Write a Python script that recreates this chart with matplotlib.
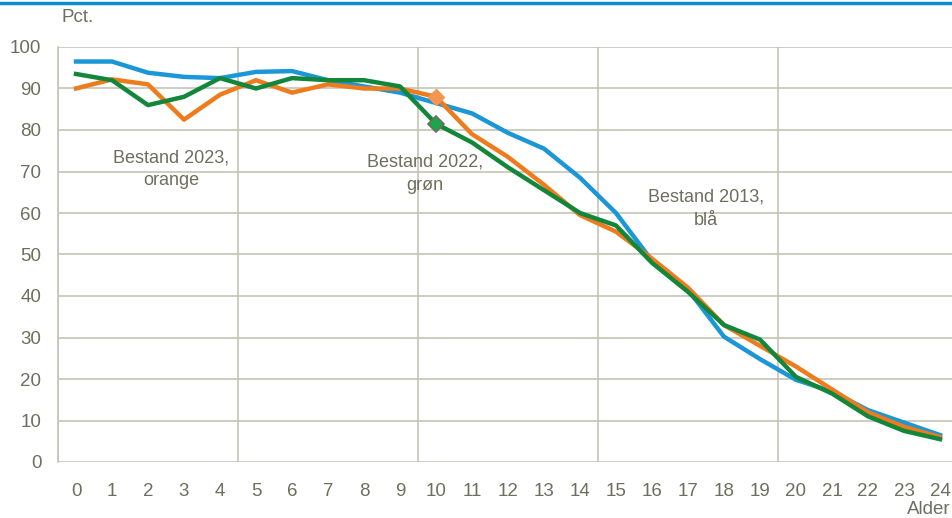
import matplotlib.pyplot as plt
from matplotlib.lines import Line2D

# Alder 0-24, andel i pct.
alder = list(range(25))
bestand_2013 = [96.5, 96.5, 93.8, 92.8, 92.5, 94.0, 94.2, 92.0, 90.5, 89.0,
                86.5, 84.0, 79.3, 75.5, 68.5, 60.0, 48.5, 41.5, 30.2, 24.8,
                19.8, 17.0, 12.5, 9.5, 6.5]
bestand_2023 = [90.0, 92.2, 91.0, 82.5, 88.5, 92.0, 89.0, 91.0, 90.0, 90.0,
                88.0, 79.0, 73.5, 66.8, 59.5, 55.5, 49.0, 42.0, 33.0, 28.0,
                23.0, 17.5, 12.0, 8.5, 6.0]
bestand_2022 = [93.5, 92.0, 86.0, 88.0, 92.5, 90.0, 92.5, 92.0, 92.0, 90.5,
                81.5, 77.0, 71.0, 65.5, 60.0, 57.0, 48.0, 41.0, 33.0, 29.5,
                20.5, 16.5, 11.0, 7.5, 5.5]
y_ticks = list(range(0, 101, 10))

tekst = '#6e6e5e'
grid = '#c4c3b5'
plt.rcParams['font.family'] = ['Liberation Sans Narrow', 'Liberation Sans', 'DejaVu Sans']

fig = plt.figure(figsize=(9.53, 5.18), dpi=100)
ax = fig.add_axes([58 / 953, 56 / 518, 900 / 953, 415 / 518])

ax.plot(alder, bestand_2013, color='#1b96d6', lw=3.2, zorder=3)
ax.plot(alder, bestand_2023, color='#ee7b1c', lw=3.2, zorder=4)
ax.plot(alder, bestand_2022, color='#12873b', lw=3.2, zorder=5)
ax.plot(alder[10], bestand_2023[10], marker='D', ms=8, color='#f39650', zorder=6)
ax.plot(alder[10], bestand_2022[10], marker='D', ms=8, color='#1aa64a',
        mec='#6e6e5e', mew=1.2, zorder=6)

ax.set_xlim(-0.5, 24.5)
ax.set_ylim(0, 100)
ax.set_yticks(y_ticks)
ax.set_xticks(alder)
ax.set_xticks([x - 0.5 for x in range(0, 26, 5)], minor=True)
ax.grid(axis='y', color=grid, lw=1.2)
ax.grid(axis='x', which='minor', color=grid, lw=1.2)
ax.grid(axis='x', which='major', visible=False)
ax.tick_params(which='both', length=0, labelsize=13.5, labelcolor=tekst)
ax.tick_params(axis='x', pad=15)
ax.tick_params(axis='y', pad=12)
for s in ['top', 'right', 'bottom']:
    ax.spines[s].set_visible(False)
ax.spines['left'].set_color(grid)
ax.spines['left'].set_linewidth(1.2)
ax.set_axisbelow(True)

ax.text(2.65, 70.5, 'Bestand 2023,\norange', ha='center', va='center',
        fontsize=13, color=tekst, linespacing=1.45)
ax.text(9.7, 69.5, 'Bestand 2022,\ngrøn', ha='center', va='center',
        fontsize=13, color=tekst, linespacing=1.45)
ax.text(17.5, 61, 'Bestand 2013,\nblå', ha='center', va='center',
        fontsize=13, color=tekst, linespacing=1.45)

fig.text(62 / 953, 1 - 17 / 518, 'Pct.', ha='left', va='center', fontsize=13.5, color=tekst)
fig.text(951 / 953, 1 - 510 / 518, 'Alder', ha='right', va='center', fontsize=13.5, color=tekst)

fig.add_artist(Line2D([0, 1], [1 - 2.5 / 518, 1 - 2.5 / 518], color='#0b8fd0', lw=2.5))

fig.savefig('out.png', dpi=100)
